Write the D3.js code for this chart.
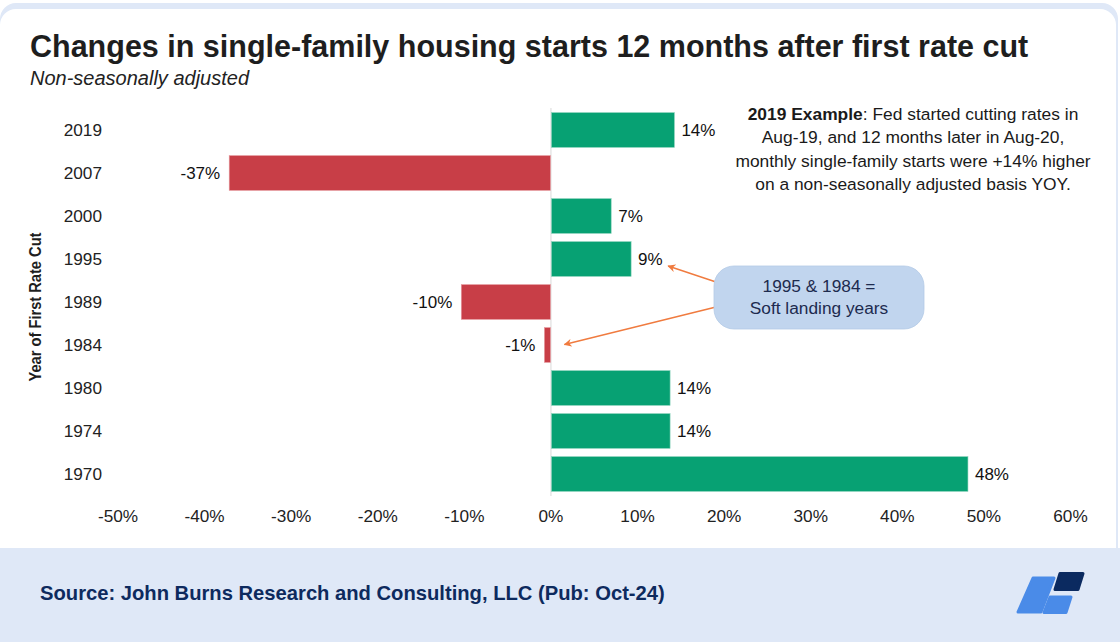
<!DOCTYPE html>
<html><head><meta charset="utf-8">
<script src="https://cdn.jsdelivr.net/npm/d3@7"></script>
<style>
html,body{margin:0;padding:0;background:#fff;}
svg{display:block;font-family:"Liberation Sans",Arial,sans-serif;}
</style></head>
<body>
<svg id="chart" width="1120" height="642"></svg>
<script>
const years = ["2019","2007","2000","1995","1989","1984","1980","1974","1970"];
const changes = [14.2,-37.1,6.9,9.2,-10.3,-0.7,13.7,13.7,48.1];
const xTicks = [-50,-40,-30,-20,-10,0,10,20,30,40,50,60];
const titleText = "Changes in single-family housing starts 12 months after first rate cut";
const subtitleText = "Non-seasonally adjusted";
const yAxisTitle = "Year of First Rate Cut";
const noteLines = [["2019 Example",": Fed started cutting rates in"],["","Aug-19, and 12 months later in Aug-20,"],["","monthly single-family starts were +14% higher"],["","on a non-seasonally adjusted basis YOY."]];
const calloutLines = ["1995 & 1984 =","Soft landing years"];
const sourceText = "Source: John Burns Research and Consulting, LLC (Pub: Oct-24)";

const svg = d3.select("#chart");
// card background
svg.append("rect").attr("x",0).attr("y",3).attr("width",1118).attr("height",620).attr("rx",16).attr("fill","#dfe8f7");
svg.append("rect").attr("x",0).attr("y",9).attr("width",1116).attr("height",620).attr("rx",16).attr("fill","#fff");
// footer
svg.append("rect").attr("x",0).attr("y",548).attr("width",1120).attr("height",94).attr("fill","#dfe8f7");

svg.append("text").attr("x",30).attr("y",57).attr("font-size",30.5).attr("font-weight","bold").attr("fill","#1e1e1e").text(titleText);
svg.append("text").attr("x",30).attr("y",85).attr("font-size",20).attr("font-style","italic").attr("fill","#222").text(subtitleText);

const x = d3.scaleLinear().domain([-50,60]).range([117.5,1070]);
const y = d3.scaleBand().domain(years).range([108.5,495.5]).paddingInner(0.19).paddingOuter(0.095);

const data = years.map((yr,i)=>({year:yr,v:changes[i]}));

// zero line
svg.append("line").attr("x1",x(0)+0.5).attr("x2",x(0)+0.5).attr("y1",108).attr("y2",496).attr("stroke","#d9d9d9").attr("stroke-width",1);

svg.selectAll("rect.bar").data(data).enter().append("rect").attr("class","bar")
  .attr("x",d=>x(Math.min(0,d.v))+ (d.v>=0?1:0))
  .attr("y",d=>y(d.year))
  .attr("width",d=>Math.abs(x(d.v)-x(0)))
  .attr("height",y.bandwidth())
  .attr("fill",d=>d.v>=0?"#07a173":"#c83e47")
  .attr("stroke",d=>d.v>=0?"#8fd3bd":"#e69ca1").attr("stroke-width",0.6);

svg.selectAll("text.val").data(data).enter().append("text").attr("class","val")
  .attr("x",d=>d.v>=0?x(d.v)+8:x(d.v)-9)
  .attr("y",d=>y(d.year)+y.bandwidth()/2)
  .attr("dy","0.36em")
  .attr("text-anchor",d=>d.v>=0?"start":"end")
  .attr("font-size",17).attr("fill","#111")
  .text(d=>Math.round(d.v)+"%");

// y axis
const yAxis = svg.append("g").attr("transform","translate(104,0)")
  .call(d3.axisLeft(y).tickSize(0).tickPadding(2));
yAxis.select(".domain").remove();
yAxis.selectAll("text").attr("font-size",17.2).attr("fill","#222").attr("font-family","Liberation Sans, Arial, sans-serif");

// x axis
const xAxis = svg.append("g").attr("transform","translate(0,502)")
  .call(d3.axisBottom(x).tickValues(xTicks).tickSize(0).tickPadding(8).tickFormat(d=>d+"%"));
xAxis.select(".domain").remove();
xAxis.selectAll("text").attr("font-size",17.2).attr("fill","#222").attr("font-family","Liberation Sans, Arial, sans-serif");

svg.append("text").attr("transform","translate(41,307) rotate(-90)").attr("text-anchor","middle")
  .attr("font-size",16.5).attr("font-weight","bold").attr("fill","#1e1e1e")
  .attr("textLength",149).attr("lengthAdjust","spacingAndGlyphs").text(yAxisTitle);

// note
const note = svg.append("text").attr("text-anchor","middle").attr("font-size",17.4).attr("fill","#1a1a1a");
noteLines.forEach((ln,i)=>{
  const t = note.append("tspan").attr("x",913).attr("y",120+i*23.4);
  if(ln[0]) t.append("tspan").attr("font-weight","bold").text(ln[0]);
  t.append("tspan").text(ln[1]);
});

// arrows
const defs = svg.append("defs");
defs.append("marker").attr("id","arr").attr("viewBox","0 0 10 10").attr("refX",9).attr("refY",5)
  .attr("markerWidth",8).attr("markerHeight",8).attr("markerUnits","userSpaceOnUse").attr("orient","auto")
  .append("path").attr("d","M0,0 L10,5 L0,10 L3,5 Z").attr("fill","#f07b3f");
const d1995 = data[3], d1984 = data[5];
svg.append("line").attr("x1",716).attr("y1",282).attr("x2",x(d1995.v)+38).attr("y2",y(d1995.year)+y.bandwidth()/2+7)
  .attr("stroke","#f07b3f").attr("stroke-width",1.4).attr("marker-end","url(#arr)");
svg.append("line").attr("x1",716).attr("y1",307).attr("x2",x(0)+14).attr("y2",y(d1984.year)+y.bandwidth()/2-0.5)
  .attr("stroke","#f07b3f").attr("stroke-width",1.4).attr("marker-end","url(#arr)");

// callout
svg.append("rect").attr("x",714).attr("y",266).attr("width",210).attr("height",63).attr("rx",20)
  .attr("fill","#c1d5ee").attr("stroke","#b4cae6").attr("stroke-width",0.8);
const co = svg.append("text").attr("text-anchor","middle").attr("font-size",17.3).attr("fill","#1d2b4f");
calloutLines.forEach((l,i)=>co.append("tspan").attr("x",819).attr("y",292+i*22).text(l));

// footer text
svg.append("text").attr("x",40).attr("y",600).attr("font-size",20.2).attr("font-weight","bold").attr("fill","#0d2a5e").text(sourceText);

// logo
const logo = svg.append("g").attr("stroke-linejoin","round").attr("stroke-width",3);
logo.append("path").attr("d","M1033,578 L1054,578 L1041,612 L1018,612 Z").attr("fill","#4a8be8").attr("stroke","#4a8be8");
logo.append("path").attr("d","M1060,573.5 L1083,573.5 L1078,589.5 L1055,589.5 Z").attr("fill","#0b2a60").attr("stroke","#0b2a60");
logo.append("path").attr("d","M1050,597 L1071,597 L1066,612.5 L1044,612.5 Z").attr("fill","#4a8be8").attr("stroke","#4a8be8");
</script>
</body></html>
